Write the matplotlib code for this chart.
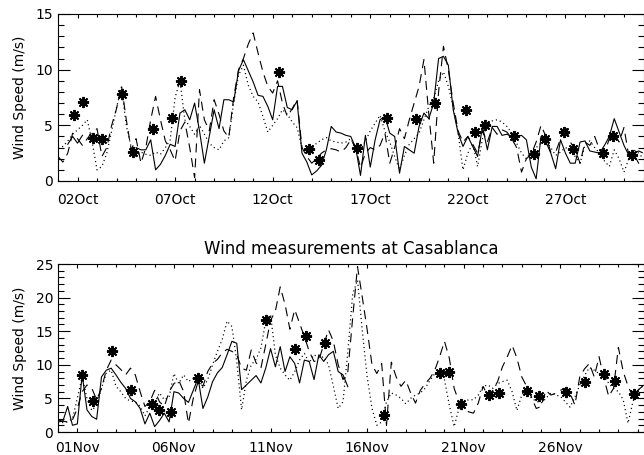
import matplotlib

matplotlib.use("Agg")
import matplotlib.pyplot as plt
import numpy as np
from matplotlib.ticker import MultipleLocator

nan = np.nan

# ---- October panel: 6-hourly series starting 01 Oct 00h ----
oct_solid = [
    nan, nan, 3.3, 4.0, 3.4, 4.1, nan, nan,
    nan, nan, nan, nan, nan, nan, nan, nan,
    3.0, 2.8, 2.8, 3.7, 1.0, 1.5, 2.3, 3.3,
    3.1, 6.1, 6.4, 5.5, 7.0, 4.5, 1.6, 4.0,
    6.4, 4.7, 7.3, 7.3, 7.1, 9.9, 10.9, 9.9,
    8.9, 7.7, 7.6, 6.7, 5.5, 8.5, 8.5, 6.6,
    6.4, 7.2, 2.5, 1.7, 0.55, 0.9, 1.4, 2.8,
    4.9, 4.4, 4.3, 4.1, 4.0, 3.0, 0.5, 4.1,
    1.25, 3.7, 5.5, 5.8, 4.3, 4.0, 0.7, 3.1,
    2.8, 2.5, 4.9, 6.1, 5.6, 7.0, 11.0, 11.2,
    10.4, 6.4, 4.3, 3.1, 4.0, 3.1, 2.2, 4.9,
    2.8, 4.9, 4.9, 4.1, 4.2, 4.0, 4.0, 4.1,
    3.7, 1.25, 0.2, 4.0, 3.5, 2.5, 1.1, 3.7,
    2.5, 1.6, 1.6, 3.5, 3.6, 2.7, 2.6, 2.5,
    3.2, 4.0, 5.6, 4.4, 3.2, 2.3, 2.4, 1.6,
    nan,
]
oct_dashed = [
    2.2, 1.7, 2.5, 4.3, 3.8, 3.2, 3.8, 4.4,
    4.7, 2.2, 3.0, 5.0, 6.5, 8.6, 5.5, 2.8,
    3.8, 1.6, 3.0, 5.5, 7.6, 5.5, 3.6, 2.8,
    1.8, 4.5, 5.3, 3.0, 0.3, 8.2, 5.5, 4.5,
    7.3, 6.0, 4.5, 3.9, 7.5, 10.0, 11.0, 12.3,
    13.3, 11.5, 9.8, 8.5, 7.9, 9.0, 7.0, 5.8,
    6.5, 7.3, 3.0, 2.2, 1.6, 2.0, 2.5, 2.8,
    2.9, 2.8, 2.6, 3.0, 3.7, 3.0, 1.2, 2.5,
    3.0, 2.8, 3.2, 4.3, 1.6, 3.0, 4.7, 3.8,
    5.5, 7.0, 8.5, 10.9, 6.0, 1.6, 8.0, 12.1,
    10.0, 7.0, 4.5, 3.5, 4.0, 3.3, 2.5, 4.5,
    3.5, 4.8, 4.2, 4.6, 4.4, 3.8, 3.0, 0.8,
    2.0, 2.4, 3.5, 5.0, 4.0, 2.6, 2.6, 3.8,
    5.0, 3.5, 2.8, 1.6, 3.5, 3.2, 4.0, 2.8,
    2.5, 3.8, 4.3, 3.5, 4.8, 2.2, 2.5, 2.7,
    2.5,
]
oct_dotted = [
    3.0, 3.1, 3.6, 4.2, 4.6, 5.0, 5.5, 3.5,
    1.0, 1.3, 2.5, 4.5, 6.6, 8.4, 5.0, 3.0,
    2.2, 2.6, 2.4, 2.3, 2.6, 2.4, 3.0, 3.7,
    7.5, 9.0, 5.5, 4.9, 4.2, 5.0, 4.2, 3.4,
    3.0, 2.8, 3.6, 3.9, 7.0, 9.5, 10.4, 8.6,
    7.6, 7.1, 5.8, 4.4, 5.0, 5.6, 6.4, 6.0,
    5.3, 4.8, 3.0, 2.5, 2.9, 3.4, 3.7, 3.9,
    3.6, 3.5, 3.4, 3.5, 3.8, 3.0, 2.8, 3.6,
    4.5, 5.2, 5.9, 4.5, 3.5, 2.2, 1.0, 2.3,
    3.3, 3.8, 4.3, 5.5, 6.7, 7.4, 9.0, 9.8,
    8.5, 6.7, 4.3, 1.0, 2.5, 3.4, 1.3, 3.8,
    5.0, 5.4, 5.5, 5.3, 4.9, 4.3, 3.4, 2.5,
    2.0, 2.6, 3.0, 3.4, 3.6, 3.0, 2.3, 2.6,
    3.0, 2.8, 2.2, 1.6, 3.2, 3.6, 3.0, 2.5,
    1.8, 1.3, 2.8, 2.0, 0.8, 2.0, 2.8, 2.5,
    2.0,
]
oct_obs_day = [1.82, 2.30, 2.78, 3.27, 4.29, 4.86, 5.85, 6.82, 7.28, 12.30,
               13.87, 14.35, 16.30, 17.88, 19.33, 20.30, 21.90, 22.37, 22.90,
               24.36, 25.40, 25.94, 26.92, 27.39, 28.94, 29.43, 30.43]
oct_obs_val = [5.9, 7.1, 3.9, 3.8, 7.8, 2.6, 4.7, 5.7, 9.0, 9.8,
               2.9, 1.9, 3.0, 5.7, 5.6, 7.0, 6.4, 4.4, 5.0,
               4.0, 2.4, 3.8, 4.4, 2.85, 2.5, 4.0, 2.3]
oct_ticks = [2, 7, 12, 17, 22, 27]
oct_labels = ["02Oct", "07Oct", "12Oct", "17Oct", "22Oct", "27Oct"]

# ---- November panel: 6-hourly series starting 31 Oct 00h (day 0) ----
nov_solid = [
    1.8, 1.6, 3.8, 1.0, 1.2, 8.5, 3.3, 2.3,
    1.9, 8.2, 9.2, 9.5, 8.5, 7.4, 6.5, 5.0,
    4.5, 3.5, 1.2, 2.8, 0.8, 1.7, 2.8, 1.5,
    6.0, 5.8, 5.0, 4.4, 6.2, 8.0, 3.5, 5.2,
    7.5, 8.8, 9.6, 11.5, 13.5, 13.2, 6.3, 7.0,
    7.7, 8.4, 7.3, 9.5, 12.4, 9.7, 12.7, 9.0,
    11.2, 10.2, 7.3, 10.7, 10.5, 7.8, 11.5, 10.5,
    11.5, 12.0, 9.0, 8.5, 6.75, nan, nan, nan,
] + [nan] * 58
nov_dashed = [
    1.5, 1.6, 1.5, 1.8, 3.5, 6.0, 7.0, 6.5,
    4.8, 6.5, 9.2, 10.7, 10.0, 9.3, 8.5, 9.5,
    8.5, 6.0, 3.8, 4.5, 6.2, 4.5, 3.8, 6.0,
    7.2, 7.7, 6.0, 1.3, 5.0, 7.5, 6.8, 9.0,
    10.2, 10.8, 11.8, 12.3, 12.0, 11.5, 9.5, 9.2,
    12.2, 10.3, 9.5, 13.0, 16.6, 18.0, 21.6, 19.0,
    15.3, 18.2, 16.2, 14.2, 12.0, 10.5, 10.7, 13.0,
    15.2, 13.5, 10.0, 7.8, 9.0, 17.0, 24.6, 20.0,
    15.2, 10.0, 8.7, 10.2, 1.0, 10.4, 8.2, 6.8,
    7.7, 5.8, 4.3, 6.2, 7.2, 8.0, 9.2, 11.2,
    13.5, 11.0, 6.5, 4.5, 3.5, 3.0, 2.8, 4.3,
    6.8, 5.3, 6.2, 7.5, 9.7, 11.2, 12.9, 11.0,
    8.2, 6.8, 5.2, 3.5, 3.8, 6.2, 5.5, 5.75,
    6.2, 6.5, 5.75, 4.0, 8.2, 9.4, 10.2, 8.2,
    11.2, 8.0, 5.3, 6.5, 12.6, 9.0, 6.8, 5.3,
    6.2, 6.8,
]
nov_dotted = [
    1.5, 1.4, 1.5, 2.0, 5.0, 8.2, 5.0, 3.2,
    4.0, 6.5, 8.8, 9.2, 6.8, 6.0, 5.0, 4.6,
    4.5, 3.8, 2.4, 3.8, 4.3, 5.8, 4.8, 5.2,
    8.7, 7.2, 8.5, 7.5, 8.0, 8.2, 6.5, 7.8,
    10.0, 12.0, 13.8, 16.5, 15.7, 10.5, 3.3, 7.7,
    10.0, 10.8, 12.5, 16.5, 17.5, 11.5, 9.5, 8.5,
    7.7, 9.0, 10.7, 11.7, 10.3, 11.5, 11.0, 11.2,
    10.0, 6.8, 3.5, 4.5, 12.0, 20.5, 22.6, 15.0,
    8.2, 3.5, 1.0, 1.5, 4.5, 5.8, 5.5, 5.0,
    4.2, 5.0, 5.5, 5.8, 6.5, 7.7, 8.7, 9.0,
    7.8, 4.0, 0.8, 3.5, 4.5, 4.8, 4.8, 5.5,
    6.8, 7.0, 6.5, 7.2, 7.5, 7.7, 6.0, 3.2,
    5.5, 6.5, 5.0, 4.6, 4.3, 5.0, 5.8, 5.5,
    5.3, 4.5, 3.7, 5.2, 7.0, 8.4, 9.6, 9.2,
    8.7, 8.7, 7.2, 6.5, 6.0, 4.8, 1.3, 4.5,
    6.2, 6.8,
]
nov_obs_day = [1.23, 1.83, 2.81, 3.78, 4.85, 5.25, 5.83, 7.27, 10.78, 12.25,
               12.84, 13.80, 16.86, 19.79, 20.25, 20.83, 22.30, 22.81, 24.28,
               24.88, 26.27, 27.27, 28.25, 28.82, 29.81]
nov_obs_val = [8.5, 4.6, 12.1, 6.25, 4.2, 3.3, 2.95, 8.0, 16.7, 12.3,
               14.3, 13.3, 2.5, 8.8, 9.0, 4.2, 5.5, 5.75, 6.05,
               5.3, 5.95, 7.5, 8.7, 7.65, 5.7]
nov_ticks = [1, 6, 11, 16, 21, 26]
nov_labels = ["01Nov", "06Nov", "11Nov", "16Nov", "21Nov", "26Nov"]

oct_t = 1.0 + 0.25 * np.arange(len(oct_solid))
nov_t = 0.25 * np.arange(len(nov_solid))

plt.rcParams["font.family"] = ["DejaVu Sans"]
plt.rcParams["lines.scale_dashes"] = False

W, H = 644, 455
fig = plt.figure(figsize=(W / 100, H / 100), dpi=100)

# axes boxes in pixels: left, right, top, bottom
ax_top = fig.add_axes([58 / W, 1 - 181 / H, 585.5 / W, 167 / H])
ax_bot = fig.add_axes([58 / W, 1 - 432 / H, 585.5 / W, 168 / H])

DASH = (0, (6.5, 4.3))
DOT = (0, (0.8, 2.2))
STAR = (8, 2, 0)


def draw_panel(ax, t, solid, dashed, dotted, obs_t, obs_v, xlim, ymax,
               ticks, labels, xpad):
    ax.plot(t, solid, color="black", lw=0.8, ls="-")
    ax.plot(t, dashed, color="black", lw=0.8, ls=DASH)
    ax.plot(t, dotted, color="black", lw=0.9, ls=DOT)
    ax.plot(obs_t, obs_v, ls="none", marker=STAR, ms=8, mew=1.4,
            color="black", zorder=5)

    ax.set_xlim(*xlim)
    ax.set_ylim(0, ymax)
    ax.set_xticks(ticks)
    ax.set_xticklabels(labels)
    ax.xaxis.set_minor_locator(MultipleLocator(1))
    ax.yaxis.set_major_locator(MultipleLocator(5))
    ax.yaxis.set_minor_locator(MultipleLocator(1))

    ax.tick_params(axis="both", which="both", direction="in",
                   top=True, right=True, width=0.8, labelsize=10)
    ax.tick_params(axis="x", which="major", length=3, pad=xpad)
    ax.tick_params(axis="x", which="minor", length=2)
    ax.tick_params(axis="y", which="major", length=8.5, pad=3.5)
    ax.tick_params(axis="y", which="minor", length=4.2)
    for sp in ax.spines.values():
        sp.set_linewidth(0.8)

    ax.set_ylabel("Wind Speed (m/s)", fontsize=10)
    ax.yaxis.set_label_coords(-0.053, 0.5)


draw_panel(ax_top, oct_t, oct_solid, oct_dashed, oct_dotted,
           oct_obs_day, oct_obs_val, (1, 31), 15, oct_ticks, oct_labels, 8.5)
draw_panel(ax_bot, nov_t, nov_solid, nov_dashed, nov_dotted,
           nov_obs_day, nov_obs_val, (0, 30.3), 25, nov_ticks, nov_labels, 6.5)

ax_bot.set_title("Wind measurements at Casablanca", fontsize=12, pad=7)

fig.savefig("out.png", dpi=100)
